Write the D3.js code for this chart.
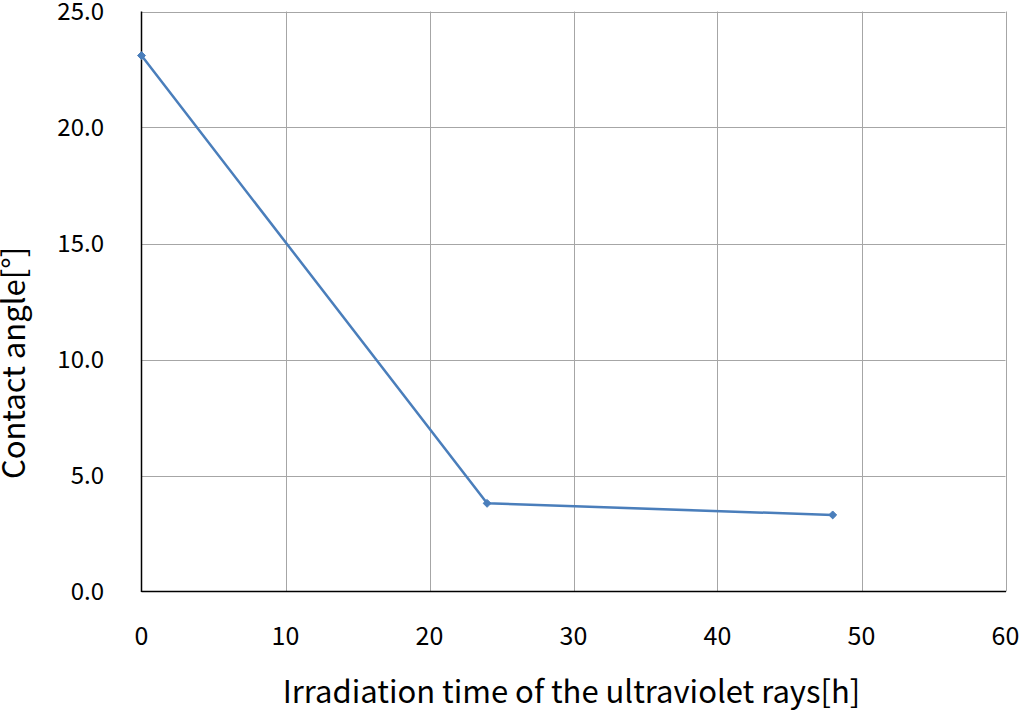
<!DOCTYPE html>
<html><head><meta charset="utf-8">
<script src="https://cdn.jsdelivr.net/npm/d3@7"></script>
<style>body{margin:0;background:#fff}svg{display:block}text{font-family:"Noto Sans CJK JP","Noto Sans",sans-serif;fill:#000}</style>
</head><body>
<script>
const hours = [0, 24, 48];
const angles = [23.1, 3.8, 3.3];
const xTicks = [0, 10, 20, 30, 40, 50, 60];
const yTicks = [0, 5, 10, 15, 20, 25];
const xLabel = "Irradiation time of the ultraviolet rays[h]";
const yLabel = "Contact angle[°]";

const W = 1020, H = 718;
const m = {left: 141.5, right: 1005.5, top: 11.5, bottom: 591.5};
const svg = d3.select("body").append("svg").attr("width", W).attr("height", H);
const x = d3.scaleLinear().domain([0, 60]).range([m.left, m.right]);
const y = d3.scaleLinear().domain([0, 25]).range([m.bottom, m.top]);

// gridlines
svg.append("g").selectAll("line").data(yTicks.slice(1)).join("line")
  .attr("x1", m.left).attr("x2", m.right).attr("y1", d => Math.round(y(d)) + 0.5).attr("y2", d => Math.round(y(d)) + 0.5)
  .attr("stroke", "#a6a6a6").attr("stroke-width", 1);
svg.append("g").selectAll("line").data(xTicks.slice(1)).join("line")
  .attr("y1", m.top).attr("y2", m.bottom).attr("x1", d => Math.round(x(d)) + 0.5).attr("x2", d => Math.round(x(d)) + 0.5)
  .attr("stroke", "#a6a6a6").attr("stroke-width", 1);

// axes lines
svg.append("line").attr("x1", m.left).attr("x2", m.left).attr("y1", m.top).attr("y2", m.bottom + 0.5).attr("stroke", "#000").attr("stroke-width", 1.5);
svg.append("line").attr("x1", m.left).attr("x2", m.right + 0.5).attr("y1", m.bottom).attr("y2", m.bottom).attr("stroke", "#000").attr("stroke-width", 1.5);

// tick labels
svg.append("g").selectAll("text").data(yTicks).join("text")
  .attr("x", 104).attr("y", d => y(d)).attr("dy", "0.35em").attr("text-anchor", "end")
  .attr("font-size", 24).text(d => d.toFixed(1));
svg.append("g").selectAll("text").data(xTicks).join("text")
  .attr("x", d => x(d)).attr("y", 645).attr("text-anchor", "middle")
  .attr("font-size", 25).text(d => d);

// axis titles
svg.append("text").attr("x", 571.5).attr("y", 703).attr("text-anchor", "middle")
  .attr("font-size", 31).text(xLabel);
svg.append("text").attr("transform", `translate(25,363) rotate(-90)`)
  .attr("text-anchor", "middle").attr("font-size", 31).text(yLabel);

// line
const pts = hours.map((h, i) => [h, angles[i]]);
svg.append("path").datum(pts)
  .attr("d", d3.line().x(d => x(d[0])).y(d => y(d[1])))
  .attr("fill", "none").attr("stroke", "#4a7ebb").attr("stroke-width", 2.5);
svg.append("g").selectAll("path").data(pts).join("path")
  .attr("transform", d => `translate(${x(d[0])},${y(d[1])})`)
  .attr("d", d3.symbol(d3.symbolDiamond2, 40))
  .attr("fill", "#4a7ebb").attr("stroke", "#4a7ebb").attr("stroke-width", 1);
</script>
</body></html>
